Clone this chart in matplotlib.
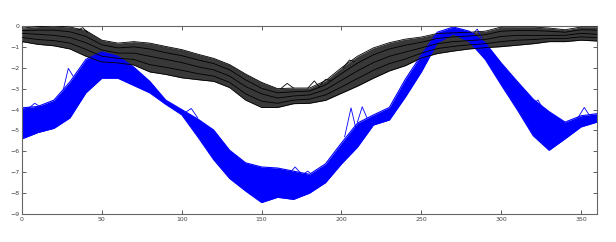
import numpy as np
import matplotlib
matplotlib.use("Agg")
import matplotlib.pyplot as plt

# Data, x in degrees
x = np.arange(0, 361, 10)

black_top = [-0.10, -0.03, 0.00, -0.05, -0.22, -0.68, -0.82, -0.75, -0.82, -0.98,
             -1.13, -1.35, -1.55, -1.85, -2.30, -2.70, -3.00, -2.97, -2.97, -2.62,
             -2.00, -1.45, -1.05, -0.80, -0.63, -0.53, -0.36, -0.33, -0.30, -0.25,
             -0.05, -0.05, -0.05, -0.10, -0.18, -0.05, -0.05]
black_upper = [-0.22, -0.20, -0.20, -0.28, -0.50, -0.90, -1.05, -1.00, -1.10, -1.28,
               -1.42, -1.62, -1.80, -2.10, -2.58, -2.98, -3.20, -3.15, -3.12, -2.82,
               -2.28, -1.78, -1.38, -1.10, -0.92, -0.78, -0.60, -0.52, -0.48, -0.42,
               -0.25, -0.22, -0.22, -0.25, -0.30, -0.18, -0.20]
black_mid = [-0.35, -0.40, -0.45, -0.55, -0.80, -1.15, -1.30, -1.30, -1.45, -1.60,
             -1.75, -1.95, -2.10, -2.40, -2.90, -3.25, -3.45, -3.35, -3.30, -3.05,
             -2.60, -2.15, -1.75, -1.45, -1.25, -1.05, -0.85, -0.75, -0.70, -0.65,
             -0.50, -0.45, -0.45, -0.45, -0.45, -0.35, -0.40]
black_lower = [-0.55, -0.65, -0.70, -0.82, -1.12, -1.45, -1.55, -1.60, -1.85, -1.98,
               -2.12, -2.28, -2.40, -2.70, -3.25, -3.60, -3.70, -3.55, -3.50, -3.30,
               -2.92, -2.52, -2.12, -1.80, -1.58, -1.30, -1.08, -0.98, -0.90, -0.85,
               -0.75, -0.68, -0.65, -0.60, -0.60, -0.52, -0.56]
black_bottom = [-0.75, -0.88, -0.95, -1.10, -1.45, -1.72, -1.77, -1.87, -2.20, -2.32,
                -2.48, -2.57, -2.65, -2.95, -3.55, -3.90, -3.90, -3.72, -3.70, -3.56,
                -3.22, -2.88, -2.50, -2.15, -1.90, -1.53, -1.32, -1.20, -1.10, -1.04,
                -0.99, -0.92, -0.85, -0.75, -0.75, -0.68, -0.72]

blue_top = [-3.92, -3.85, -3.55, -2.68, -1.60, -1.24, -1.45, -1.97, -2.65, -3.55,
            -4.00, -4.45, -4.98, -5.95, -6.55, -6.75, -6.80, -6.95, -7.10, -6.60,
            -5.60, -4.65, -4.26, -3.90, -2.55, -1.39, -0.30, -0.05, -0.25, -0.80,
            -1.77, -2.65, -3.50, -4.10, -4.60, -4.30, -4.20]
blue_bottom = [-5.40, -5.10, -4.90, -4.40, -3.20, -2.50, -2.50, -2.85, -3.20, -3.75,
               -4.25, -5.30, -6.40, -7.30, -7.90, -8.45, -8.20, -8.30, -8.00, -7.50,
               -6.60, -5.80, -4.74, -4.50, -3.40, -2.20, -0.80, -0.38, -0.75, -1.60,
               -2.82, -4.00, -5.25, -5.95, -5.40, -4.83, -4.60]

# stray curves sticking out of the bundles
blue_spikes = [
    ([4, 8, 12], [-3.95, -3.70, -3.90]),
    ([26, 29, 32], [-3.00, -2.03, -2.40]),
    ([103, 106, 110], [-4.10, -3.95, -4.40]),
    ([168, 171, 174], [-7.00, -6.75, -7.00]),
    ([176, 179, 182], [-7.10, -6.95, -7.15]),
    ([202, 206, 209], [-5.30, -3.92, -4.90]),
    ([210, 213, 216], [-4.60, -3.87, -4.40]),
    ([282, 285, 288], [-0.40, -0.15, -0.60]),
    ([320, 323, 326], [-3.75, -3.54, -3.95]),
    ([348, 352, 355], [-4.40, -3.90, -4.25]),
]
black_spikes = [
    ([35, 38, 41], [-0.20, -0.08, -0.30]),
    ([162, 166, 170], [-3.00, -2.75, -2.97]),
    ([179, 183, 186], [-2.97, -2.63, -2.90]),
    ([187, 190, 193], [-2.80, -2.56, -2.60]),
    ([201, 205, 208], [-2.00, -1.63, -1.70]),
]

fig = plt.figure(figsize=(6.16, 2.42), dpi=100)
ax = fig.add_axes([0.0357, 0.1157, 0.9335, 0.777])

# black bundle background under the blue one, its lines on top
ax.fill_between(x, black_top, black_bottom, color="#383838", lw=0, zorder=1)

ax.fill_between(x, blue_top, blue_bottom, color="#0000ff", lw=0, zorder=2)
for yy in (blue_top, blue_bottom):
    ax.plot(x, yy, color="#0000ff", lw=0.8, zorder=2)
for sx, sy in blue_spikes:
    ax.plot(sx, sy, color="#0000ff", lw=0.6, zorder=2)

for yy in (black_top, black_upper, black_mid, black_lower, black_bottom):
    ax.plot(x, yy, color="black", lw=0.6, zorder=3)
for sx, sy in black_spikes:
    ax.plot(sx, sy, color="black", lw=0.6, zorder=3)

ax.set_xlim(0, 360)
ax.set_ylim(-9, 0)
ax.set_xticks(range(0, 360, 50))
ax.set_yticks(range(-9, 1))
ax.tick_params(direction="in", length=3, width=0.6, labelsize=4.5,
               colors="#444444", top=True, right=True, pad=2)
for s in ax.spines.values():
    s.set_color("#666666")
    s.set_linewidth(0.8)

fig.savefig("out.png", dpi=100)
